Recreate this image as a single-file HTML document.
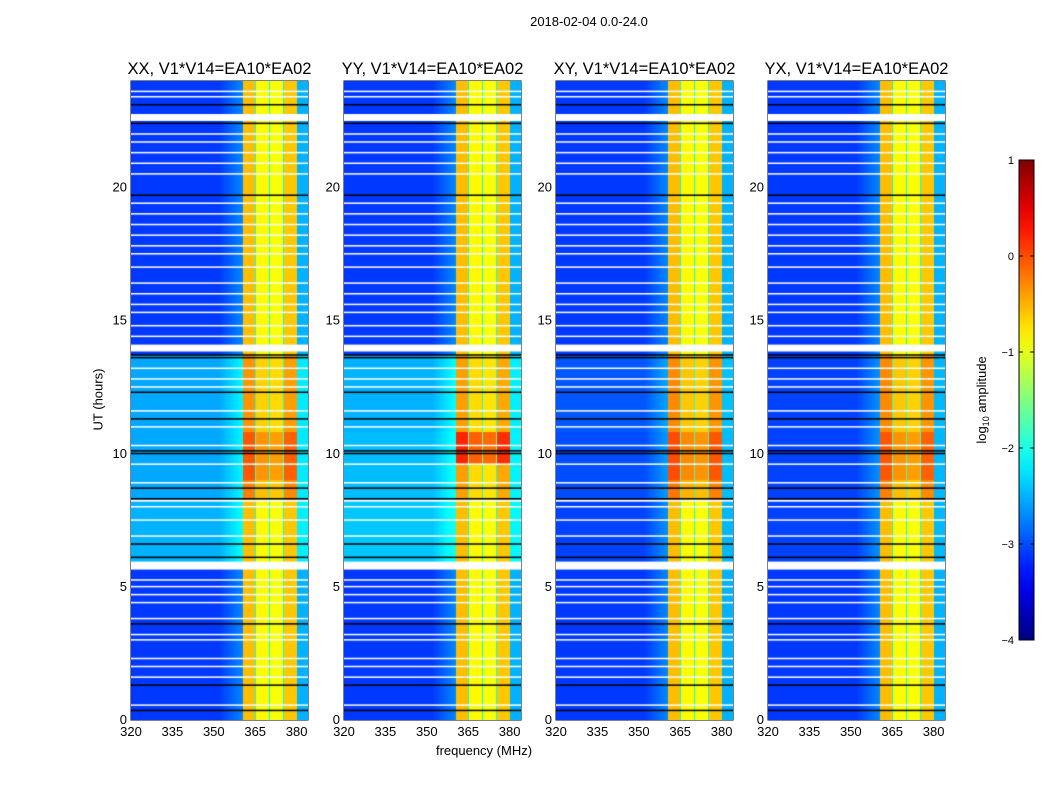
<!DOCTYPE html>
<html><head><meta charset="utf-8"><style>
body{margin:0;background:#fff;width:1050px;height:800px;position:relative;overflow:hidden;font-family:"Liberation Sans","DejaVu Sans",sans-serif;color:#000}
.t{position:absolute;white-space:nowrap}
canvas{position:absolute}
</style></head><body>
<div class="t" style="left:489px;top:14px;width:200px;text-align:center;font-size:13px">2018-02-04 0.0-24.0</div>
<div class="t" style="left:48px;top:392px;width:100px;text-align:center;font-size:13px;transform:rotate(-90deg)">UT (hours)</div>
<div class="t" style="left:384px;top:743px;width:200px;text-align:center;font-size:13px">frequency (MHz)</div>
<svg id="svg" width="1050" height="800" style="position:absolute;left:0;top:0"></svg>
<script>
const panelTitles=["XX, V1*V14=EA10*EA02","YY, V1*V14=EA10*EA02","XY, V1*V14=EA10*EA02","YX, V1*V14=EA10*EA02"];
const panelLefts=[131,344,556,768];
const xTicks=[320,335,350,365,380];
const yTicks=[0,5,10,15,20];
const cbTicks=[1,0,-1,-2,-3,-4];
const baseLeft=-3.1, baseEdge=-2.7, baseBand=[-0.55,-0.85,-0.9,-0.6], bandDip=-2.1, baseRight=-2.5;
const bandEdges=[360.6,365,370,375.2,380.3];
// time segments: [t0,t1,leftAdd,bandAdd]
const segXX=[[0,5.9,0,0],[5.9,8.25,0.6,0],[8.25,9.0,0.55,0.3],[9.0,10.8,0.55,0.5],[10.8,13.7,0.55,0.2],[13.7,24,0,0]];
const segYY=[[0,5.9,0,0],[5.9,8.25,0.7,0],[8.25,9.6,0.65,0.15],[9.6,10.8,0.65,0.75],[10.8,13.7,0.6,0.15],[13.7,24,0,0]];
const segXY=[[0,5.9,0,0],[5.9,8.25,0.05,0],[8.25,9.0,0.1,0.35],[9.0,10.8,0.1,0.55],[10.8,13.7,0.15,0.25],[13.7,24,0,0]];
const segYX=[[0,5.9,0,0],[5.9,8.25,0.05,0],[8.25,9.0,0.05,0.3],[9.0,10.8,0.05,0.5],[10.8,13.7,0.05,0.25],[13.7,24,0,0]];
const segs=[segXX,segYY,segXY,segYX];
const whiteGaps=[[22.5,22.76],[13.84,14.1],[5.65,5.95],[8.2,8.27]];
const whiteLines=[0.55,1.6,2.0,2.3,3.0,3.2,3.8,4.4,4.7,5.0,5.25,6.9,7.5,8.0,8.9,9.6,10.3,11.0,11.6,12.5,12.8,13.2,14.4,14.8,15.3,15.6,16.0,16.4,17.0,17.5,17.8,18.2,18.6,19.0,19.4,20.5,20.9,21.3,21.7,22.0,23.4,23.6];
const blackLines=[0.35,1.3,3.6,6.1,6.6,8.3,8.7,10.0,10.1,11.3,12.3,13.6,13.7,19.7,22.4,23.1];

const PT=81,PB=720,PW=177;
const xs=f=>(f-320)*2.76;
const ys=t=>PB-(t/24)*(PB-PT);
function jet(v){let x=(v+4)/5;x=Math.max(0,Math.min(1,x));
 const r=Math.max(0,Math.min(1,1.5-Math.abs(4*x-3))),g=Math.max(0,Math.min(1,1.5-Math.abs(4*x-2))),b=Math.max(0,Math.min(1,1.5-Math.abs(4*x-1)));
 return [r*255,g*255,b*255];}
function freqVal(f,seg){
 if(f<bandEdges[0]){return (f>352?baseLeft+(baseEdge-baseLeft)*(f-352)/(bandEdges[0]-352):baseLeft)+seg[2];}
 if(f>bandEdges[4]) return baseRight+seg[2]*0.5;
 for(let i=0;i<4;i++){if(f>=bandEdges[i]&&f<bandEdges[i+1]){
   if(i>0&&f<bandEdges[i]+0.4) return bandDip+seg[3]*0.5;
   return baseBand[i]+seg[3];}}
 return baseBand[3];}
const svg=document.getElementById('svg');const NS='http://www.w3.org/2000/svg';
function el(tag,a){const e=document.createElementNS(NS,tag);for(const k in a)e.setAttribute(k,a[k]);svg.appendChild(e);return e;}
panelLefts.forEach((L,p)=>{
 const c=document.createElement('canvas');c.width=PW;c.height=PB-PT;c.style.left=L+'px';c.style.top=PT+'px';
 
 
 document.body.appendChild(c);const ctx=c.getContext('2d');const img=ctx.createImageData(PW,PB-PT);
 for(let y=0;y<PB-PT;y++){const t=(PB-PT-y-0.5)/(PB-PT)*24;
  const seg=segs[p].find(s=>t>=s[0]&&t<s[1])||segs[p][0];
  for(let x=0;x<PW;x++){const f=320+(x+0.5)/2.76;let v=freqVal(f,seg);
   const col=jet(v);const k=(y*PW+x)*4;img.data[k]=col[0];img.data[k+1]=col[1];img.data[k+2]=col[2];img.data[k+3]=255;}}
 ctx.putImageData(img,0,0);
 whiteGaps.forEach(g=>{ctx.fillStyle='#fff';ctx.fillRect(0,ys(g[1])-PT,PW,ys(g[0])-ys(g[1]));});
 whiteLines.forEach(t=>{ctx.fillStyle='#fff';ctx.fillRect(0,ys(t)-PT-1,PW,1.5);});
 blackLines.forEach(t=>{ctx.fillStyle='#000';ctx.fillRect(0,ys(t)-PT-1,PW,1.5);});
 const tt=el('text',{x:L+PW/2,y:74,'text-anchor':'middle','font-size':16.5,'font-family':'Liberation Sans, sans-serif'});tt.textContent=panelTitles[p];
 
 const fr=el('rect',{x:L,y:PT,width:PW,height:PB-PT,fill:'none',stroke:'#000','stroke-width':1});
 
 xTicks.forEach(v=>{const x=L+xs(v);el('line',{x1:x,x2:x,y1:PB,y2:PB-4,stroke:'#000'});el('line',{x1:x,x2:x,y1:PT,y2:PT+4,stroke:'#000'});
  const tx=el('text',{x:x,y:PB+16,'text-anchor':'middle','font-size':13,'font-family':'Liberation Sans, sans-serif'});tx.textContent=v;
  });
 yTicks.forEach(v=>{const y=ys(v);el('line',{x1:L,x2:L+4,y1:y,y2:y,stroke:'#000'});el('line',{x1:L+PW,x2:L+PW-4,y1:y,y2:y,stroke:'#000'});
  const tx=el('text',{x:L-4,y:y+4,'text-anchor':'end','font-size':13,'font-family':'Liberation Sans, sans-serif'});tx.textContent=v;
  });
});
const CBT=160,CBB=640,CBL=1019,CBW=15;
const defs=el('defs',{});const lg=document.createElementNS(NS,'linearGradient');lg.setAttribute('id','cbg');lg.setAttribute('x1','0');lg.setAttribute('y1','1');lg.setAttribute('x2','0');lg.setAttribute('y2','0');defs.appendChild(lg);
for(let i=0;i<=20;i++){const v=-4+5*i/20;const c=jet(v);const s=document.createElementNS(NS,'stop');s.setAttribute('offset',i/20);s.setAttribute('stop-color',`rgb(${c.map(Math.round).join(',')})`);lg.appendChild(s);}
const cb=el('rect',{x:CBL,y:CBT,width:CBW,height:CBB-CBT,fill:'url(#cbg)',stroke:'#000'});

cbTicks.forEach(v=>{const y=CBB-(v+4)/5*(CBB-CBT);el('line',{x1:CBL,x2:CBL+4,y1:y,y2:y,stroke:'#000'});el('line',{x1:CBL+CBW,x2:CBL+CBW-4,y1:y,y2:y,stroke:'#000'});
 const tx=el('text',{x:CBL-5,y:y+4,'text-anchor':'end','font-size':11,'font-family':'Liberation Sans, sans-serif'});tx.textContent=v<0?'\u2212'+(-v):v;
 });
const cl=el('text',{x:0,y:0,'text-anchor':'middle','font-size':13,'font-family':'Liberation Sans, sans-serif',transform:'translate(986,400) rotate(-90)'});
cl.innerHTML='log<tspan font-size="9" dy="3">10</tspan><tspan dy="-3"> amplitude</tspan>';

</script>
</body></html>
